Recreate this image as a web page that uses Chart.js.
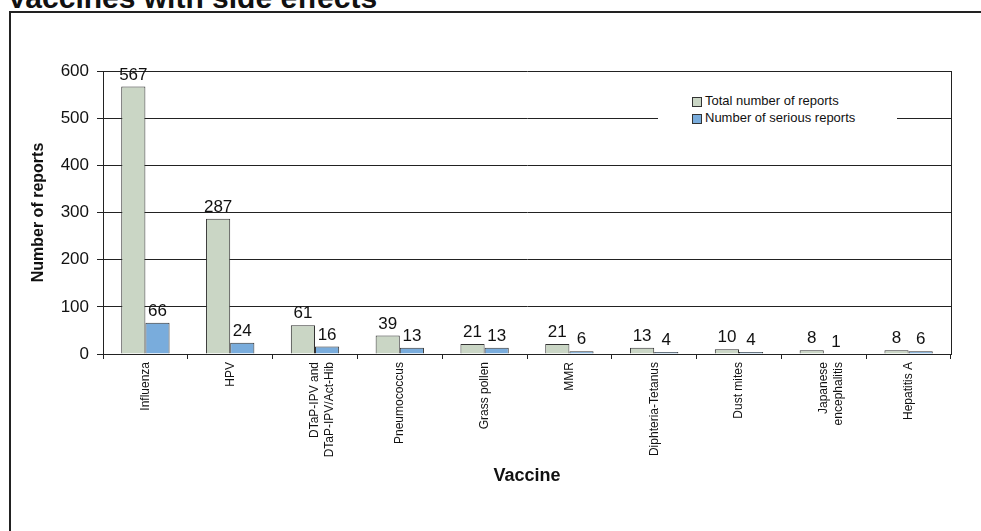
<!DOCTYPE html>
<html>
<head>
<meta charset="utf-8">
<script src="https://cdn.jsdelivr.net/npm/chart.js@4/dist/chart.umd.min.js"></script>
<style>
  html, body { margin: 0; padding: 0; background: #fff; }
  body { width: 981px; height: 531px; position: relative; overflow: hidden;
         font-family: "Liberation Sans", Arial, sans-serif; }
  #frame { position: absolute; left: 9px; top: 11px; width: 1000px; height: 600px;
           border: 2px solid #222; box-sizing: border-box; }
  #title { position: absolute; left: 7px; top: -17px; font-weight: bold; font-size: 30px;
           line-height: 30px; color: #111; white-space: nowrap; }
  #chart { position: absolute; left: 0; top: 0; }
  #legend { position: absolute; left: 658px; top: 88px; width: 239px; height: 42px; background: #fff; }
  .sw { position: absolute; width: 8px; height: 8px; border: 1px solid #333; }
  .lt { position: absolute; font-size: 13px; line-height: 14px; color: #111; white-space: nowrap; }
</style>
</head>
<body>
<div id="frame"></div>
<div id="title">Vaccines with side effects</div>
<canvas id="chart" width="981" height="531"></canvas>
<div id="legend"></div>
<script>
// Vaccine categories (multi-line where the label wraps)
const categories = [
  'Influenza',
  'HPV',
  ['DTaP-IPV and', 'DTaP-IPV/Act-Hib'],
  'Pneumococcus',
  'Grass pollen',
  'MMR',
  'Diphteria-Tetanus',
  'Dust mites',
  ['Japanese', 'encephalitis'],
  'Hepatitis A'
];
const totalReports   = [567, 287, 61, 39, 21, 21, 13, 10, 8, 8];
const seriousReports = [66, 24, 16, 13, 13, 6, 4, 4, 1, 6];
const yTicks = [0, 100, 200, 300, 400, 500, 600];

const seriesNames = ['Total number of reports', 'Number of serious reports'];
const seriesColors = ['#CAD6C5', '#79ACDC'];

const FONT = '"Liberation Sans", Arial, sans-serif';
const INK = '#222';

// Value labels above each bar
const valueLabels = {
  id: 'valueLabels',
  afterDatasetsDraw(chart) {
    const ctx = chart.ctx;
    ctx.save();
    ctx.font = '17px ' + FONT;
    ctx.fillStyle = '#111';
    ctx.textAlign = 'center';
    ctx.textBaseline = 'bottom';
    chart.data.datasets.forEach((ds, di) => {
      chart.getDatasetMeta(di).data.forEach((bar, i) => {
        ctx.fillText(String(ds.data[i]), bar.x, bar.y - 3);
      });
    });
    ctx.restore();
  }
};

// Right-hand edge of the plot box
const plotEdge = {
  id: 'plotEdge',
  afterDraw(chart) {
    const {ctx, chartArea: a} = chart;
    ctx.save();
    ctx.strokeStyle = INK;
    ctx.lineWidth = 1;
    ctx.beginPath();
    ctx.moveTo(Math.round(a.right) + 0.5, a.top);
    ctx.lineTo(Math.round(a.right) + 0.5, a.bottom);
    ctx.stroke();
    ctx.restore();
  }
};

new Chart(document.getElementById('chart'), {
  type: 'bar',
  data: {
    labels: categories,
    datasets: [
      { label: seriesNames[0], data: totalReports, backgroundColor: seriesColors[0],
        borderColor: '#333', borderWidth: 1 },
      { label: seriesNames[1], data: seriousReports, backgroundColor: seriesColors[1],
        borderColor: '#333', borderWidth: 1 }
    ]
  },
  options: {
    responsive: false,
    animation: false,
    devicePixelRatio: 1,
    layout: { padding: { left: 0, right: 30, top: 71, bottom: 0 } },
    datasets: { bar: { barPercentage: 1, categoryPercentage: 0.57 } },
    plugins: { legend: { display: false }, tooltip: { enabled: false } },
    scales: {
      x: {
        offset: true,
        afterFit(scale) { scale.height = 177; },
        grid: { display: true, drawOnChartArea: false, drawTicks: true, tickLength: 5,
                offset: true, color: INK },
        border: { display: true, color: INK },
        ticks: { autoSkip: false, minRotation: 90, maxRotation: 90, padding: 3,
                 color: '#111', font: { family: FONT, size: 12 } },
        title: { display: true, text: 'Vaccine', color: '#111',
                 font: { family: FONT, size: 18, weight: 'bold' },
                 padding: { top: 0, bottom: 44 } }
      },
      y: {
        min: 0, max: 600,
        afterFit(scale) { scale.width = 103; },
        afterBuildTicks(scale) { scale.ticks = yTicks.map(v => ({ value: v })); },
        grid: { color: INK, lineWidth: 1, drawTicks: true, tickLength: 6 },
        border: { display: true, color: INK },
        ticks: { padding: 8, color: '#111', font: { family: FONT, size: 17 } },
        title: { display: true, text: 'Number of reports', color: '#111',
                 font: { family: FONT, size: 16, weight: 'bold' },
                 padding: { top: 29, bottom: 0 } }
      }
    }
  },
  plugins: [valueLabels, plotEdge]
});

// Legend box inside the plot
const legend = document.getElementById('legend');
seriesNames.forEach((name, i) => {
  const sw = document.createElement('div');
  sw.className = 'sw';
  sw.style.left = (692 - 658) + 'px';
  sw.style.top = (97 - 88 + i * 17) + 'px';
  sw.style.background = seriesColors[i];
  legend.appendChild(sw);
  const t = document.createElement('div');
  t.className = 'lt';
  t.textContent = name;
  t.style.left = (705 - 658) + 'px';
  t.style.top = (94 - 88 + i * 17) + 'px';
  legend.appendChild(t);
});
</script>
</body>
</html>
